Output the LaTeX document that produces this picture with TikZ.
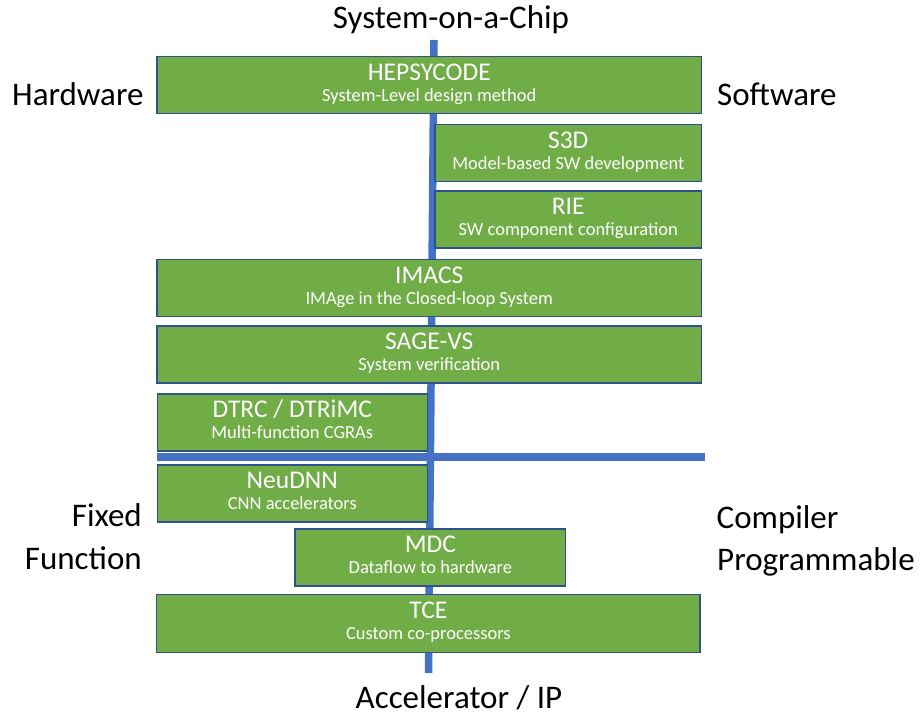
\documentclass[tikz,border=0pt]{standalone}
\usepackage{fontspec}
\setmainfont{Carlito}
\definecolor{boxgreen}{HTML}{70AD47}
\definecolor{boxedge}{HTML}{2F528F}
\definecolor{axisblue}{HTML}{4472C4}
\tikzset{
  box/.style={rectangle, draw=boxedge, line width=1.3pt, fill=boxgreen, inner sep=0pt, minimum height=57pt},
  ttl/.style={anchor=base, inner sep=0pt, text=white, font=\fontsize{25.5pt}{30pt}\selectfont},
  sub/.style={anchor=base, inner sep=0pt, text=white, font=\fontsize{18.5pt}{22pt}\selectfont},
  lbl/.style={inner sep=0pt, text=black, font=\fontsize{33pt}{39pt}\selectfont},
  axis/.style={draw=axisblue, line width=7.5pt, line cap=butt},
}
\begin{document}
\begin{tikzpicture}[x=1pt,y=-1pt]
\useasboundingbox (0,0) rectangle (920,719);
% axes (behind boxes)
\coordinate (vtop) at (434,40);
\coordinate (vbot) at (428.5,673);
\draw[axis] (vtop) -- (vbot);
% boxes
\node[box, minimum width=544.5pt] (hep) at (429.25,84.75) {};
\node[box, minimum width=266.5pt] (s3d) at (568.25,153) {};
\node[box, minimum width=266.5pt] (rie) at (568.25,219.5) {};
\node[box, minimum width=544.5pt] (imacs) at (429.25,287.65) {};
\node[box, minimum width=544.5pt] (sage) at (429.25,354.35) {};
\node[box, minimum width=270pt] (dtrc) at (292.3,422.5) {};
\node[box, minimum width=270pt] (neu) at (292.3,493.35) {};
\node[box, minimum width=270.7pt] (mdc) at (430.35,557.5) {};
\node[box, minimum width=543.3pt, minimum height=57.8pt] (tce) at (428.35,623.4) {};
% horizontal axis
\coordinate (hl) at (157,457);
\coordinate (hr) at (704.5,457);
\draw[axis, line width=8pt] (hl) -- (hr);
% box texts
\foreach \b/\t/\s in {hep/HEPSYCODE/System-Level design method,
  s3d/S3D/Model-based SW development,
  rie/RIE/SW component configuration,
  imacs/IMACS/IMAge in the Closed-loop System,
  sage/SAGE-VS/System verification,
  dtrc/{DTRC / DTRiMC}/Multi-function CGRAs,
  neu/NeuDNN/CNN accelerators,
  mdc/MDC/Dataflow to hardware,
  tce/TCE/Custom co-processors}{
  \node[ttl] (\b-t) at ([yshift=-24.5pt]\b.north) {\t};
  \node[sub] (\b-s) at ([yshift=-45.5pt]\b.north) {\s};
}
% outer labels
\node[lbl, anchor=base] (soc) at (451,28.3) {System-on-a-Chip};
\node[lbl, anchor=base west] (hw) at (12,105.7) {Hardware};
\node[lbl, anchor=base west] (sw) at (717,105.7) {Software};
\node[lbl, anchor=base east] (fixed) at (142,526.7) {Fixed};
\node[lbl, anchor=base east] (func) at (142,569.5) {Function};
\node[lbl, anchor=base west] (comp) at (716.5,528) {Compiler};
\node[lbl, anchor=base west] (prog) at (717,570) {Programmable};
\node[lbl, anchor=base west] (acc) at (355.5,708) {Accelerator / IP};
\end{tikzpicture}
\end{document}
